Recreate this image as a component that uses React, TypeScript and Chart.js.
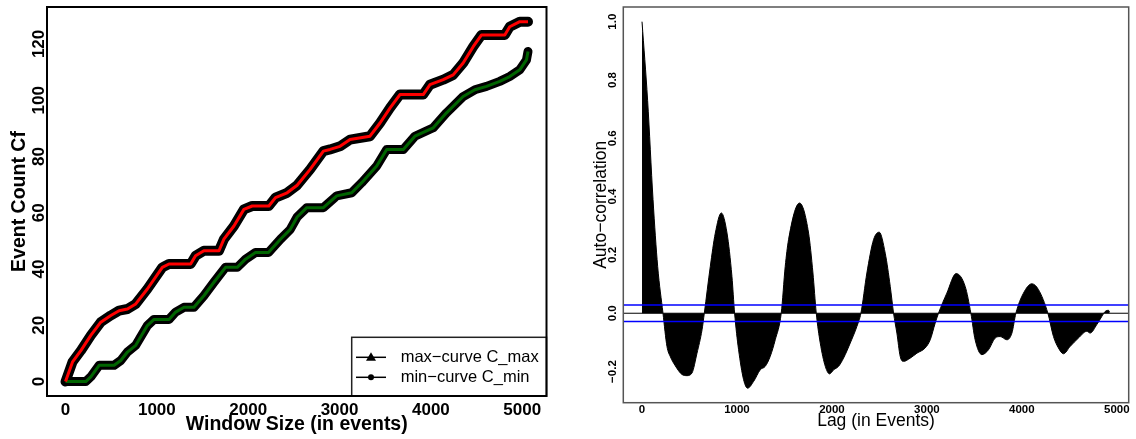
import React, { useEffect, useRef } from "react";
import { Chart, registerables } from "chart.js";

Chart.register(...registerables);

const FONT = '"Liberation Sans", Arial, Helvetica, sans-serif';

// ---------- Left panel: max / min curves ----------
const maxCurveX = [0, 77, 168, 277, 386, 496, 586, 678, 769, 896, 1060, 1133, 1370, 1424, 1515, 1680, 1734, 1844, 1953, 2044, 2226, 2299, 2426, 2536, 2678, 2823, 2896, 3005, 3115, 3333, 3443, 3552, 3661, 3916, 3989, 4135, 4244, 4353, 4463, 4554, 4809, 4863, 4973, 5063];
const maxCurveY = [0, 7, 11, 16.4, 21.1, 23.5, 25.2, 25.8, 27.6, 32.9, 40.6, 41.8, 41.8, 44.7, 46.5, 46.5, 50.6, 55.3, 61.2, 62.4, 62.4, 65.4, 67.1, 69.8, 75.4, 81.9, 82.5, 83.6, 86, 87.2, 91.9, 97.2, 102, 102, 105.5, 107.3, 109, 113.2, 119, 123.2, 123.2, 126.1, 127.9, 127.9];
const minCurveX = [0, 222, 277, 368, 532, 605, 678, 769, 896, 969, 1133, 1206, 1297, 1406, 1515, 1625, 1752, 1880, 1971, 2080, 2222, 2353, 2459, 2536, 2641, 2823, 2969, 3133, 3243, 3407, 3516, 3698, 3825, 4026, 4171, 4353, 4481, 4609, 4754, 4863, 4973, 5046, 5063];
const minCurveY = [0, 0, 1.7, 5.8, 5.8, 7.5, 10.5, 12.9, 19.9, 22.1, 22.1, 24.7, 26.4, 26.4, 30.5, 35.3, 40.6, 40.6, 43.5, 45.9, 45.9, 50.6, 54, 58.5, 61.8, 61.8, 66, 67.1, 70.7, 76.6, 82.5, 82.5, 87.2, 90.2, 95.5, 101.3, 103.7, 104.9, 106.7, 108.4, 110.8, 114.3, 117.3];
const windowTicks = [0, 1000, 2000, 3000, 4000, 5000];
const countTicks = [0, 20, 40, 60, 80, 100, 120];
const windowRange = [-202.5, 5265.5];
const countRange = [-5.12, 133.12];
const legendLabels = ["max\u2212curve C_max", "min\u2212curve C_min"];
const leftXTitle = "Window Size (in events)";
const leftYTitle = "Event Count Cf";

// ---------- Right panel: autocorrelation ----------
const lags = [0, 59, 116, 165, 221, 263, 300, 350, 421, 474, 526, 579, 632, 656, 719, 772, 835, 895, 947, 975, 1017, 1070, 1112, 1175, 1245, 1298, 1350, 1403, 1466, 1508, 1543, 1659, 1754, 1800, 1835, 1877, 1930, 1975, 2018, 2070, 2122, 2193, 2263, 2305, 2368, 2438, 2498, 2561, 2614, 2649, 2684, 2719, 2754, 2824, 2895, 2982, 3035, 3087, 3122, 3210, 3308, 3403, 3463, 3508, 3579, 3649, 3719, 3772, 3842, 3895, 3937, 4017, 4105, 4175, 4274, 4333, 4385, 4438, 4508, 4596, 4684, 4719, 4789, 4842, 4877, 4912, 4925];
const acf = [1.0, 0.73, 0.39, 0.16, 0, -0.114, -0.15, -0.18, -0.21, -0.214, -0.205, -0.137, -0.057, 0, 0.16, 0.275, 0.344, 0.275, 0.126, 0, -0.125, -0.228, -0.257, -0.234, -0.194, -0.182, -0.148, -0.091, 0, 0.16, 0.252, 0.378, 0.275, 0.138, 0, -0.102, -0.182, -0.208, -0.194, -0.182, -0.154, -0.102, -0.045, 0, 0.138, 0.252, 0.278, 0.206, 0.092, 0, -0.068, -0.148, -0.165, -0.154, -0.137, -0.119, -0.091, -0.034, 0, 0.069, 0.136, 0.092, 0, -0.091, -0.142, -0.125, -0.085, -0.08, -0.091, -0.068, 0, 0.069, 0.101, 0.081, 0, -0.08, -0.119, -0.139, -0.114, -0.085, -0.062, -0.068, -0.039, -0.011, 0.006, 0.01, 0.004];
const confBound = 0.028;
const lagTicks = [0, 1000, 2000, 3000, 4000, 5000];
const acfTicks = [-0.2, 0, 0.2, 0.4, 0.6, 0.8, 1.0];
const acfTickLabels = ["\u22120.2", "0.0", "0.2", "0.4", "0.6", "0.8", "1.0"];
const lagRange = [-197, 5125];
const acfRange = [-0.3068, 1.0503];
const rightXTitle = "Lag (in Events)";
const rightYTitle = "Auto\u2212correlation";

const toPoints = (xs: number[], ys: number[]) => xs.map((x, i) => ({ x, y: ys[i] }));

function vText(ctx: CanvasRenderingContext2D, text: string, x: number, y: number, baseline: CanvasTextBaseline) {
  ctx.save();
  ctx.translate(x, y);
  ctx.rotate(-Math.PI / 2);
  ctx.textAlign = "center";
  ctx.textBaseline = baseline;
  ctx.fillText(text, 0, 0);
  ctx.restore();
}

const leftDecor = {
  id: "leftDecor",
  afterDatasetsDraw(chart: any) {
    const { ctx, chartArea: a, scales } = chart;
    ctx.save();
    ctx.fillStyle = "#000";
    // x tick labels
    ctx.font = `bold 17px ${FONT}`;
    ctx.textAlign = "center";
    ctx.textBaseline = "alphabetic";
    windowTicks.forEach((v) => ctx.fillText(String(v), scales.x.getPixelForValue(v), a.bottom + 19));
    // y tick labels
    countTicks.forEach((v) => vText(ctx, String(v), a.left - 3.5, scales.y.getPixelForValue(v), "alphabetic"));
    // titles
    ctx.font = `bold 19.5px ${FONT}`;
    ctx.textAlign = "center";
    ctx.fillText(leftXTitle, (a.left + a.right) / 2, a.bottom + 34);
    vText(ctx, leftYTitle, a.left - 22, (a.top + a.bottom) / 2, "alphabetic");

    // legend box
    const lx = 351.7, ly = 337.3;
    ctx.fillStyle = "#fff";
    ctx.fillRect(lx, ly, a.right - lx, a.bottom - ly);
    ctx.strokeStyle = "#222";
    ctx.lineWidth = 1.5;
    ctx.strokeRect(lx, ly, a.right - lx, a.bottom - ly);
    const rows = [357.3, 377.3];
    rows.forEach((ry, i) => {
      ctx.strokeStyle = "#000";
      ctx.lineWidth = 1.5;
      ctx.beginPath();
      ctx.moveTo(356, ry);
      ctx.lineTo(386, ry);
      ctx.stroke();
      ctx.fillStyle = "#000";
      ctx.beginPath();
      if (i === 0) {
        ctx.moveTo(371, ry - 5);
        ctx.lineTo(376, ry + 3.5);
        ctx.lineTo(366, ry + 3.5);
        ctx.closePath();
      } else {
        ctx.arc(371, ry, 3, 0, Math.PI * 2);
      }
      ctx.fill();
      ctx.font = `16.5px ${FONT}`;
      ctx.textAlign = "left";
      ctx.textBaseline = "middle";
      ctx.fillText(legendLabels[i], 400.7, ry);
    });

    // frame
    ctx.strokeStyle = "#000";
    ctx.lineWidth = 2;
    ctx.strokeRect(a.left, a.top, a.right - a.left, a.bottom - a.top);
    ctx.restore();
  },
};

const rightDecor = {
  id: "rightDecor",
  afterDatasetsDraw(chart: any) {
    const { ctx, chartArea: a, scales } = chart;
    ctx.save();
    // reference lines
    const hline = (v: number, color: string, w: number) => {
      const y = scales.y.getPixelForValue(v);
      ctx.strokeStyle = color;
      ctx.lineWidth = w;
      ctx.beginPath();
      ctx.moveTo(a.left, y);
      ctx.lineTo(a.right, y);
      ctx.stroke();
    };
    hline(0, "#000", 1);
    hline(confBound, "#0000ff", 1.5);
    hline(-confBound, "#0000ff", 1.5);

    ctx.fillStyle = "#000";
    ctx.font = `bold 11.5px ${FONT}`;
    ctx.textAlign = "center";
    ctx.textBaseline = "alphabetic";
    lagTicks.forEach((v) => ctx.fillText(String(v), scales.x.getPixelForValue(v), a.bottom + 10.6));
    acfTicks.forEach((v, i) => vText(ctx, acfTickLabels[i], a.left - 7, scales.y.getPixelForValue(v), "alphabetic"));

    ctx.font = `17.5px ${FONT}`;
    ctx.textAlign = "center";
    ctx.fillText(rightXTitle, (a.left + a.right) / 2, a.bottom + 22.8);
    vText(ctx, rightYTitle, a.left - 17, (a.top + a.bottom) / 2, "alphabetic");

    // frame
    ctx.strokeStyle = "#555";
    ctx.lineWidth = 1.5;
    ctx.strokeRect(a.left, a.top, a.right - a.left, a.bottom - a.top);
    ctx.restore();
  },
};

function LeftChart() {
  const ref = useRef<HTMLCanvasElement>(null);
  useEffect(() => {
    if (!ref.current) return;
    const chart = new Chart(ref.current, {
      type: "line",
      data: {
        datasets: [
          { data: toPoints(maxCurveX, maxCurveY), borderColor: "#ff0000", borderWidth: 3, pointRadius: 0, order: 1, borderJoinStyle: "round" },
          { data: toPoints(minCurveX, minCurveY), borderColor: "#006400", borderWidth: 3, pointRadius: 0, order: 2, borderJoinStyle: "round" },
          { data: toPoints(maxCurveX, maxCurveY), borderColor: "#000", borderWidth: 10, pointRadius: 0, order: 3, borderJoinStyle: "round", borderCapStyle: "round" },
          { data: toPoints(minCurveX, minCurveY), borderColor: "#000", borderWidth: 9, pointRadius: 0, order: 4, borderJoinStyle: "round", borderCapStyle: "round" },
        ],
      } as any,
      options: {
        animation: false,
        responsive: false,
        devicePixelRatio: 1,
        events: [],
        layout: { padding: { left: 47, right: 21.5, top: 7, bottom: 43 } },
        plugins: { legend: { display: false }, tooltip: { enabled: false } },
        scales: {
          x: { type: "linear", min: windowRange[0], max: windowRange[1], display: false },
          y: { type: "linear", min: countRange[0], max: countRange[1], display: false },
        },
      } as any,
      plugins: [leftDecor],
    });
    return () => chart.destroy();
  }, []);
  return <canvas ref={ref} width={568} height={439} style={{ position: "absolute", left: 0, top: 0, width: 568, height: 439 }} />;
}

function RightChart() {
  const ref = useRef<HTMLCanvasElement>(null);
  useEffect(() => {
    if (!ref.current) return;
    const chart = new Chart(ref.current, {
      type: "line",
      data: {
        datasets: [
          {
            data: toPoints(lags, acf),
            borderColor: "#000",
            backgroundColor: "#000",
            fill: "origin",
            borderWidth: 1,
            pointRadius: 0,
            cubicInterpolationMode: "monotone",
          },
        ],
      } as any,
      options: {
        animation: false,
        responsive: false,
        devicePixelRatio: 1,
        events: [],
        layout: { padding: { left: 55.3, right: 7.3, top: 7, bottom: 36.3 } },
        plugins: { legend: { display: false }, tooltip: { enabled: false } },
        scales: {
          x: { type: "linear", min: lagRange[0], max: lagRange[1], display: false },
          y: { type: "linear", min: acfRange[0], max: acfRange[1], display: false },
        },
      } as any,
      plugins: [rightDecor],
    });
    return () => chart.destroy();
  }, []);
  return <canvas ref={ref} width={568} height={439} style={{ position: "absolute", left: 568, top: 0, width: 568, height: 439 }} />;
}

export default function App() {
  return (
    <div style={{ position: "absolute", left: 0, top: 0, width: 1136, height: 439, background: "#fff", overflow: "hidden" }}>
      <LeftChart />
      <RightChart />
    </div>
  );
}
